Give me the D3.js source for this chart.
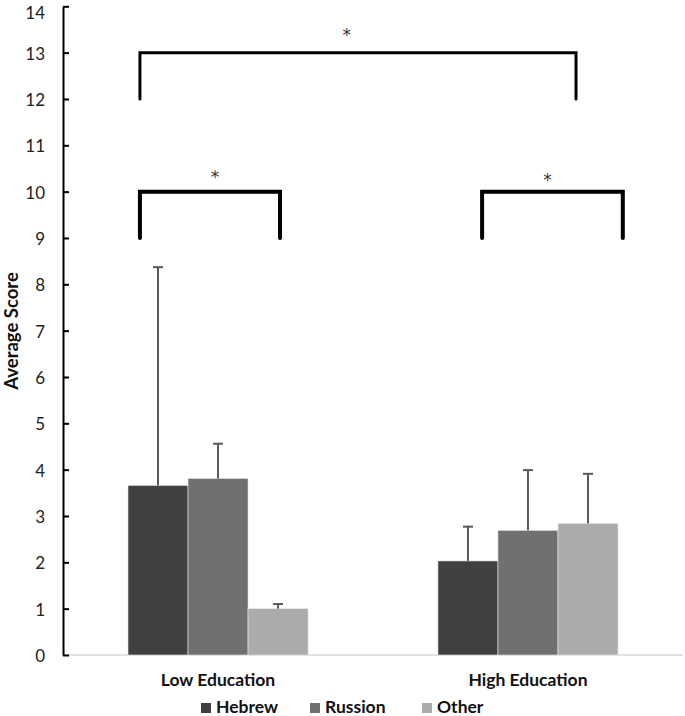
<!DOCTYPE html>
<html><head><meta charset="utf-8">
<script src="https://cdn.jsdelivr.net/npm/d3@7"></script>
<style>body{margin:0;background:#fff}svg{display:block}</style>
</head><body>
<svg id="c" width="685" height="716"></svg>
<script>
const categories = ["Low Education", "High Education"];
const series = ["Hebrew", "Russion", "Other"];
const colors = ["#404040", "#707070", "#ababab"];
const means = [[3.66, 3.81, 1.0], [2.03, 2.69, 2.84]];
const errUpper = [[8.37, 4.56, 1.1], [2.77, 3.99, 3.91]];
const yTicks = d3.range(0, 15, 1);
// brackets: x in category-centre units (0 = Low centre, 1 = High centre), y in score units
const brackets = [
  {x1: -0.252, x2: 1.155, yTop: 13, yBot: 12, w: 3},
  {x1: -0.252, x2: 0.2, yTop: 10, yBot: 9, w: 4},
  {x1: 0.852, x2: 1.306, yTop: 10, yBot: 9, w: 4}
];
const stars = [{x: 0.415, y: 13.5}, {x: -0.01, y: 10.45}, {x: 1.063, y: 10.38}];

const svg = d3.select("#c");
const L = 63, R = 683, T = 6.3, B = 655;
const y = d3.scaleLinear().domain([0, 14]).range([B, T]);
const x0 = d3.scaleBand().domain(categories).range([L, R]).paddingInner(0.419).paddingOuter(0.2097);
const x1 = d3.scaleBand().domain(series).range([0, x0.bandwidth()]);
const xc = d3.scaleLinear().domain([0, 1]).range([x0(categories[0]) + x0.bandwidth()/2, x0(categories[1]) + x0.bandwidth()/2]);
const font = "Lato, 'Open Sans', sans-serif";

// x axis line
svg.append("line").attr("x1", L).attr("x2", R).attr("y1", B).attr("y2", B)
  .attr("stroke", "#d9d9d9").attr("stroke-width", 1.5);

// bars
const g = svg.append("g");
categories.forEach((c, ci) => {
  series.forEach((s, si) => {
    g.append("rect").attr("x", x0(c) + x1(s)).attr("width", x1.bandwidth())
      .attr("y", y(means[ci][si])).attr("height", y(0) - y(means[ci][si]))
      .attr("fill", colors[si]).attr("stroke", "#e8e8e8").attr("stroke-width", 0.6);
  });
});
// error bars
categories.forEach((c, ci) => {
  series.forEach((s, si) => {
    const cx = x0(c) + x1(s) + x1.bandwidth()/2;
    g.append("line").attr("x1", cx).attr("x2", cx).attr("y1", y(means[ci][si])).attr("y2", y(errUpper[ci][si]))
      .attr("stroke", "#595959").attr("stroke-width", 2);
    g.append("line").attr("x1", cx - 5).attr("x2", cx + 5).attr("y1", y(errUpper[ci][si])).attr("y2", y(errUpper[ci][si]))
      .attr("stroke", "#595959").attr("stroke-width", 2);
  });
});

// y axis
const ya = svg.append("g").attr("transform", `translate(${L},0)`)
  .call(d3.axisLeft(y).tickValues(yTicks).tickSize(-6).tickSizeOuter(0).tickPadding(18).tickFormat(d3.format("d")));
ya.select(".domain").attr("stroke", "#000").attr("stroke-width", 2);
ya.selectAll(".tick line").attr("stroke", "#000").attr("stroke-width", 2);
ya.selectAll(".tick text").attr("font-family", font).attr("font-size", 17).attr("fill", "#222")
  .attr("dy", d => d === 14 ? "0.72em" : "0.38em");

// y title
svg.append("text").attr("transform", "translate(18,331) rotate(-90)").attr("text-anchor", "middle")
  .attr("font-family", font).attr("font-weight", "bold").attr("font-size", 18.5).attr("fill", "#111").text("Average Score");

// category labels
categories.forEach(c => {
  svg.append("text").attr("x", x0(c) + x0.bandwidth()/2).attr("y", 686).attr("text-anchor", "middle")
    .attr("font-family", font).attr("font-weight", "bold").attr("font-size", 17.5).attr("fill", "#111").text(c);
});

// brackets
brackets.forEach(b => {
  svg.append("path")
    .attr("d", `M${xc(b.x1)},${y(b.yBot)}V${y(b.yTop)}H${xc(b.x2)}V${y(b.yBot)}`)
    .attr("fill", "none").attr("stroke", "#000").attr("stroke-width", b.w).attr("stroke-linecap", "round");
});
stars.forEach(s => {
  svg.append("text").attr("x", xc(s.x)).attr("y", y(s.y) + 12).attr("text-anchor", "middle")
    .attr("font-family", "'DejaVu Sans', sans-serif").attr("font-size", 17).attr("fill", "#333").text("*");
});

// legend
const legX = [201, 310, 422];
series.forEach((s, i) => {
  svg.append("rect").attr("x", legX[i]).attr("y", 703).attr("width", 10).attr("height", 10).attr("fill", colors[i]);
  svg.append("text").attr("x", legX[i] + 15).attr("y", 713).attr("font-family", font).attr("font-weight", "bold")
    .attr("font-size", 17.5).attr("fill", "#111").text(s);
});
</script>
</body></html>
